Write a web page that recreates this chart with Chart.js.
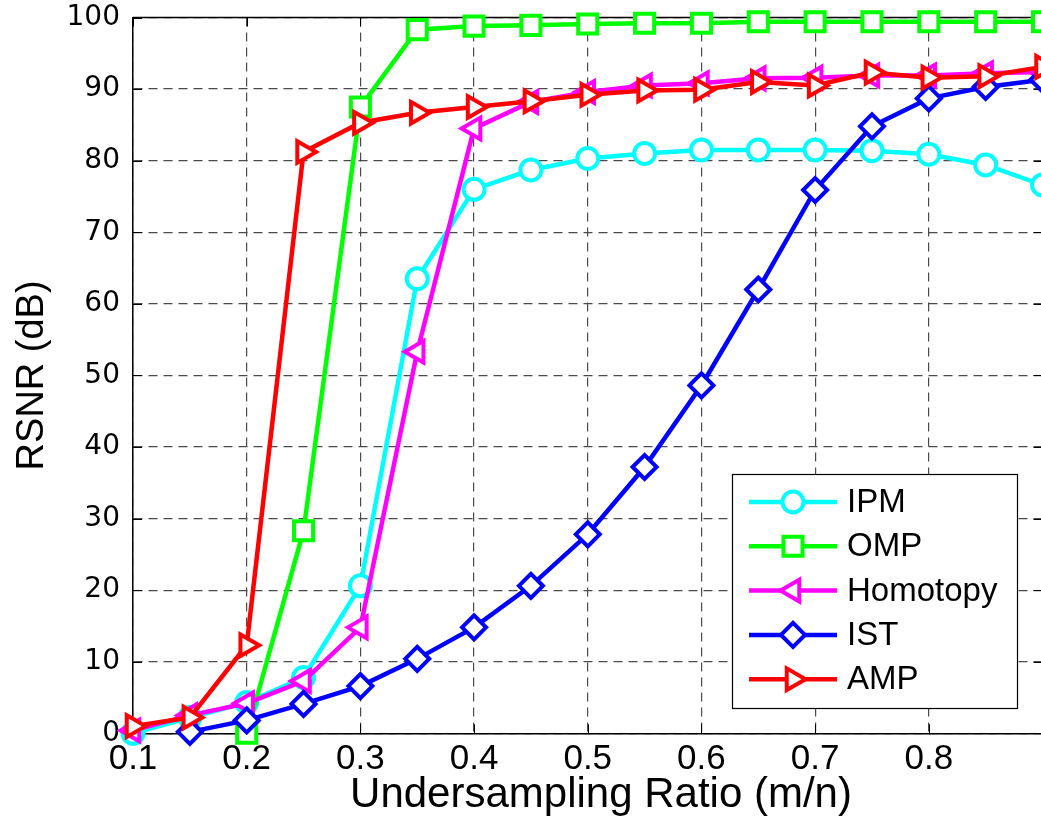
<!DOCTYPE html>
<html>
<head>
<meta charset="utf-8">
<title>RSNR vs undersampling ratio</title>
<script src="https://cdn.jsdelivr.net/npm/chart.js@4/dist/chart.umd.min.js"></script>
<style>
  html, body { margin: 0; padding: 0; background: #fff; overflow: hidden; }
  #wrap { width: 1060px; height: 832px; }
</style>
</head>
<body>
<div id="wrap"><canvas id="chart" width="1060" height="832"></canvas></div>
<script>
// undersampling ratio m/n
const ratios = [0.1, 0.15, 0.2, 0.25, 0.3, 0.35, 0.4, 0.45, 0.5, 0.55, 0.6, 0.65, 0.7, 0.75, 0.8, 0.85, 0.9];

// RSNR in dB for each solver
const ipm      = [0, 2.2, 4.3, 7.8, 20.6, 63.5, 76.0, 78.7, 80.3, 81.0, 81.5, 81.5, 81.5, 81.4, 80.9, 79.4, 76.6];
const omp      = [null, null, 0, 28.3, 87.5, 98.3, 98.8, 98.9, 99.1, 99.2, 99.2, 99.4, 99.4, 99.4, 99.4, 99.4, 99.4];
const homotopy = [0.4, 2.5, 4.2, 7.3, 14.8, 53.3, 84.5, 88.2, 89.6, 90.5, 90.8, 91.5, 91.6, 91.9, 91.9, 92.2, 92.4];
const ist      = [null, 0.2, 1.8, 4.1, 6.6, 10.4, 14.8, 20.6, 27.8, 37.2, 48.6, 62.0, 75.9, 84.8, 88.7, 90.3, 91.3];
const amp      = [1.0, 2.2, 12.3, 81.2, 85.3, 86.7, 87.5, 88.3, 89.2, 89.8, 89.9, 91.0, 90.5, 92.3, 91.6, 91.8, 93.1];

const seriesNames = ['IPM', 'OMP', 'Homotopy', 'IST', 'AMP'];
const xTickLabels = ['0.1', '0.2', '0.3', '0.4', '0.5', '0.6', '0.7', '0.8'];
const yTickLabels = ['0', '10', '20', '30', '40', '50', '60', '70', '80', '90', '100'];
const xTitle = 'Undersampling Ratio (m/n)';
const yTitle = 'RSNR (dB)';

const toPoints = vals => ratios.map((r, i) => ({ x: r, y: vals[i] }));

function series(label, values, color, style, radius, rotation, order) {
    return {
        label,
        data: toPoints(values),
        borderColor: color,
        backgroundColor: color,
        borderWidth: 4.5,
        pointStyle: style,
        pointRadius: radius,
        pointRotation: rotation,
        pointBorderWidth: 4,
        pointBorderColor: color,
        pointBackgroundColor: '#ffffff',
        tension: 0,
        clip: false,
        order
    };
}

const datasets = [
    series(seriesNames[0], ipm, '#00ffff', 'circle', 10.5, 0, 5),
    series(seriesNames[1], omp, '#00ff00', 'rect', 13.5, 0, 4),
    series(seriesNames[2], homotopy, '#ff00ff', 'triangle', 12.5, -90, 3),
    series(seriesNames[3], ist, '#0000ff', 'rectRot', 12, 0, 2),
    series(seriesNames[4], amp, '#ff0000', 'triangle', 12.5, 90, 1)
];

function drawMarker(ctx, ds, x, y) {
    if (Chart.helpers && Chart.helpers.drawPoint) {
        ctx.save();
        ctx.lineWidth = ds.pointBorderWidth;
        ctx.strokeStyle = ds.pointBorderColor;
        ctx.fillStyle = ds.pointBackgroundColor;
        Chart.helpers.drawPoint(ctx, {
            pointStyle: ds.pointStyle,
            radius: ds.pointRadius,
            rotation: ds.pointRotation,
            borderWidth: ds.pointBorderWidth
        }, x, y);
        ctx.restore();
    }
}

// box outline (top/right edges) and inward tick marks, drawn under the lines
const framePlugin = {
    id: 'frame',
    beforeDatasetsDraw(chart) {
        const { ctx, chartArea: a, scales } = chart;
        ctx.save();
        ctx.strokeStyle = '#000';
        ctx.lineWidth = 1.5;
        ctx.beginPath();
        ctx.moveTo(a.left, a.top);
        ctx.lineTo(a.right, a.top);
        ctx.lineTo(a.right, a.bottom);
        ctx.stroke();
        ctx.lineWidth = 1;
        ctx.beginPath();
        scales.x.ticks.forEach(t => {
            const px = Math.round(scales.x.getPixelForValue(t.value)) + 0.5;
            ctx.moveTo(px, a.bottom); ctx.lineTo(px, a.bottom - 9);
            ctx.moveTo(px, a.top); ctx.lineTo(px, a.top + 9);
        });
        scales.y.ticks.forEach(t => {
            const py = Math.round(scales.y.getPixelForValue(t.value)) + 0.5;
            ctx.moveTo(a.left, py); ctx.lineTo(a.left + 9, py);
            ctx.moveTo(a.right, py); ctx.lineTo(a.right - 9, py);
        });
        ctx.stroke();
        ctx.restore();
    }
};

// x axis title, centred a little right of the plot centre
const xTitlePlugin = {
    id: 'xTitle',
    afterDraw(chart) {
        const { ctx } = chart;
        ctx.save();
        ctx.fillStyle = '#000';
        ctx.font = '42px "Liberation Sans", Arial, sans-serif';
        ctx.textAlign = 'center';
        ctx.textBaseline = 'middle';
        ctx.fillText(xTitle, 601, 795);
        ctx.restore();
    }
};

// boxed legend in the lower right of the plot
const legendPlugin = {
    id: 'boxLegend',
    afterDraw(chart) {
        const { ctx } = chart;
        const box = { left: 732, top: 474, width: 285, height: 234 };
        const rowTop = 502, rowStep = 44.3;
        ctx.save();
        ctx.fillStyle = '#ffffff';
        ctx.fillRect(box.left, box.top, box.width, box.height);
        ctx.strokeStyle = '#000';
        ctx.lineWidth = 1.2;
        ctx.strokeRect(box.left + 0.5, box.top + 0.5, box.width, box.height);
        ctx.font = '33px "Liberation Sans", Arial, sans-serif';
        ctx.textBaseline = 'middle';
        chart.data.datasets.forEach((ds, i) => {
            const y = rowTop + i * rowStep;
            ctx.strokeStyle = ds.borderColor;
            ctx.lineWidth = ds.borderWidth;
            ctx.beginPath();
            ctx.moveTo(749, y);
            ctx.lineTo(837, y);
            ctx.stroke();
            drawMarker(ctx, ds, 793, y);
            ctx.fillStyle = '#000';
            ctx.fillText(ds.label, 847, y + 1);
        });
        ctx.restore();
    }
};

new Chart(document.getElementById('chart'), {
    type: 'line',
    data: { datasets },
    options: {
        responsive: false,
        animation: false,
        events: [],
        layout: { padding: { left: 0, top: 17.5, right: 14, bottom: 0 } },
        plugins: { legend: { display: false }, tooltip: { enabled: false } },
        scales: {
            x: {
                type: 'linear',
                min: 0.1,
                max: 0.9,
                afterFit: s => {
                    s.height = 98.7;
                    s.paddingLeft = 0; s.paddingRight = 0;
                },
                ticks: {
                    stepSize: 0.1,
                    padding: 5,
                    color: '#000',
                    maxRotation: 0,
                    autoSkip: false,
                    font: { family: '"Liberation Sans", Arial, sans-serif', size: 35 },
                    callback: (v, i) => xTickLabels[i] || ''
                },
                grid: { color: '#4a4a4a', lineWidth: 1.2, drawTicks: false },
                border: { color: '#000', width: 1.5, dash: [9, 6] },
                title: { display: false, text: xTitle }
            },
            y: {
                min: 0,
                max: 100,
                afterFit: s => {
                    s.width = 133;
                    s.paddingTop = 0; s.paddingBottom = 0;
                },
                ticks: {
                    stepSize: 10,
                    padding: 13,
                    color: '#000',
                    font: { family: '"DejaVu Sans", sans-serif', size: 28 },
                    callback: (v, i) => yTickLabels[i]
                },
                grid: { color: '#4a4a4a', lineWidth: 1.2, drawTicks: false },
                border: { color: '#000', width: 1.5, dash: [9, 6] },
                title: {
                    display: true,
                    text: yTitle,
                    color: '#000',
                    font: { family: '"Liberation Sans", Arial, sans-serif', size: 38, lineHeight: 1 },
                    padding: { top: 14, bottom: 0 }
                }
            }
        }
    },
    plugins: [framePlugin, xTitlePlugin, legendPlugin]
});
</script>
</body>
</html>
